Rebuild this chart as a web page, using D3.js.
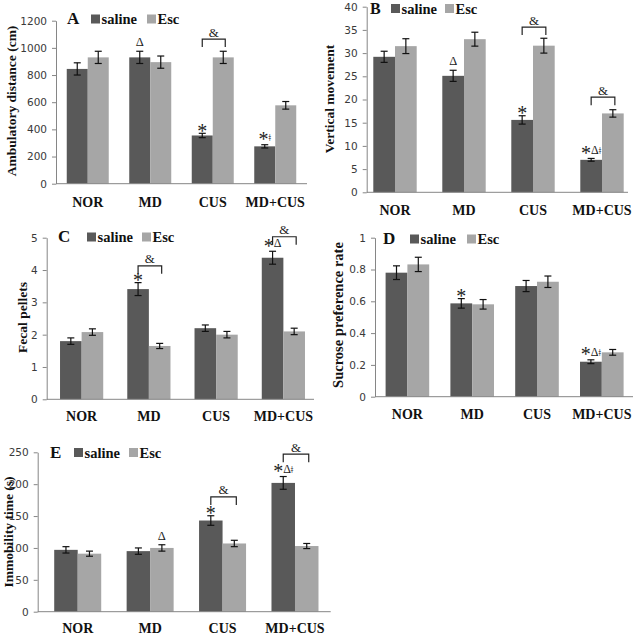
<!DOCTYPE html>
<html><head><meta charset="utf-8">
<script src="https://cdn.jsdelivr.net/npm/d3@7"></script>
<style>
html,body{margin:0;padding:0;background:#fff;}
svg{display:block;}
</style>
</head><body>
<svg id="chart" width="640" height="634"></svg>
<script>
// ---------- DATA ----------
const categories = ["NOR", "MD", "CUS", "MD+CUS"];
const seriesNames = ["saline", "Esc"];

const ambulatorySaline = [845, 930, 355, 275];
const ambulatorySalineErr = [45, 45, 16, 12];
const ambulatoryEsc = [930, 895, 930, 577];
const ambulatoryEscErr = [45, 45, 45, 28];
const ambulatoryTicks = [0, 200, 400, 600, 800, 1000, 1200];

const verticalSaline = [29.2, 25.1, 15.6, 7.0];
const verticalSalineErr = [1.2, 1.2, 0.9, 0.3];
const verticalEsc = [31.5, 33.0, 31.6, 17.0];
const verticalEscErr = [1.6, 1.5, 1.6, 0.8];
const verticalTicks = [0, 5, 10, 15, 20, 25, 30, 35, 40];

const fecalSaline = [1.80, 3.41, 2.20, 4.38];
const fecalSalineErr = [0.1, 0.2, 0.1, 0.2];
const fecalEsc = [2.08, 1.65, 2.00, 2.10];
const fecalEscErr = [0.1, 0.08, 0.1, 0.1];
const fecalTicks = [0, 1, 2, 3, 4, 5];

const sucroseSaline = [0.78, 0.587, 0.696, 0.22];
const sucroseSalineErr = [0.043, 0.03, 0.035, 0.012];
const sucroseEsc = [0.832, 0.581, 0.723, 0.279];
const sucroseEscErr = [0.045, 0.03, 0.036, 0.018];
const sucroseTicks = [0, 0.2, 0.4, 0.6, 0.8, 1];

const immobilitySaline = [97, 95, 143, 202];
const immobilitySalineErr = [5, 5, 7.5, 10];
const immobilityEsc = [91, 100, 107, 103];
const immobilityEscErr = [4, 5, 5, 4];
const immobilityTicks = [0, 50, 100, 150, 200, 250];

// significance marks: [category, series index, text]
const marksA = [["MD", 0, "Δ"], ["CUS", 0, "*"], ["MD+CUS", 0, "*ǂ"]];
const marksB = [["MD", 0, "Δ"], ["CUS", 0, "*"], ["MD+CUS", 0, "*Δǂ"]];
const marksC = [["MD", 0, "*"], ["MD+CUS", 0, "*Δ"]];
const marksD = [["MD", 0, "*"], ["MD+CUS", 0, "*Δǂ"]];
const marksE = [["MD", 1, "Δ"], ["CUS", 0, "*"], ["MD+CUS", 0, "*Δǂ"]];
// "&" brackets: [category, level in data units]
const bracketsA = [["CUS", 1065]];
const bracketsB = [["CUS", 35.6], ["MD+CUS", 20.5]];
const bracketsC = [["MD", 4.13], ["MD+CUS", 5.03]];
const bracketsD = [];
const bracketsE = [["CUS", 180], ["MD+CUS", 247]];

// ---------- DRAW ----------
const colors = ["#595959", "#a6a6a6"];
const svg = d3.select("#chart");
const serif = "'Liberation Serif','Times New Roman',serif";
const sans = "'DejaVu Sans',Verdana,sans-serif";

function panel(cfg) {
  const g = svg.append("g");
  const x = d3.scaleBand().domain(categories).range(cfg.band).padding(0);
  const y = d3.scaleLinear().domain([0, cfg.ticks[cfg.ticks.length - 1]]).range([cfg.y0, cfg.yTop]);
  const bw = cfg.barW;
  const cx = (c, s) => x(c) + x.bandwidth() / 2 + (s === 0 ? -bw : 0);

  // y axis
  const ax = g.append("g").attr("transform", `translate(${cfg.axisX},0)`)
    .call(d3.axisLeft(y).tickValues(cfg.ticks).tickSize(4).tickSizeOuter(0).tickFormat(d3.format("")));
  ax.select(".domain").attr("stroke", "#868686").attr("stroke-width", 1);
  ax.selectAll(".tick line").attr("stroke", "#868686");
  ax.selectAll(".tick text").attr("font-family", sans).attr("font-size", 10.5)
    .attr("fill", "#3a3a3a").attr("x", -9);

  // bars
  const sets = [[cfg.s, cfg.se], [cfg.e, cfg.ee]];
  sets.forEach(([vals, errs], s) => {
    g.selectAll(null).data(categories).enter().append("rect")
      .attr("x", c => cx(c, s))
      .attr("y", (c, i) => y(vals[i]))
      .attr("width", bw)
      .attr("height", (c, i) => cfg.y0 - y(vals[i]))
      .attr("fill", colors[s]);
  });
  // x axis line
  g.append("line").attr("x1", cfg.axisX).attr("x2", cfg.axisEnd)
    .attr("y1", cfg.y0).attr("y2", cfg.y0).attr("stroke", "#868686").attr("stroke-width", 1);

  // error bars
  sets.forEach(([vals, errs], s) => {
    categories.forEach((c, i) => {
      const mx = cx(c, s) + bw / 2;
      const t = y(vals[i] + errs[i]), b = y(vals[i] - errs[i]);
      const eg = g.append("g").attr("stroke", "#111").attr("stroke-width", 1.2);
      eg.append("line").attr("x1", mx).attr("x2", mx).attr("y1", t).attr("y2", b);
      eg.append("line").attr("x1", mx - 3.5).attr("x2", mx + 3.5).attr("y1", t).attr("y2", t);
      eg.append("line").attr("x1", mx - 3.5).attr("x2", mx + 3.5).attr("y1", b).attr("y2", b);
    });
  });

  // significance marks
  cfg.marks.forEach(([c, s, txt]) => {
    const i = categories.indexOf(c);
    const vals = s === 0 ? cfg.s : cfg.e, errs = s === 0 ? cfg.se : cfg.ee;
    const top = y(vals[i] + errs[i]);
    const t = g.append("text").attr("x", cx(c, s) + bw / 2)
      .attr("text-anchor", "middle").attr("font-family", serif).attr("fill", "#222");
    if (txt === "*") {
      t.attr("y", top + 4.4).attr("font-size", 20).text("*");
    } else if (txt === "Δ") {
      t.attr("y", top - 5).attr("font-size", 12.5).text("Δ");
    } else {
      t.attr("y", top - 4);
      let shifted = false;
      for (const ch of txt) {
        if (ch === "*") { t.append("tspan").attr("font-size", 20).attr("dy", 5.4).text("*"); shifted = true; }
        else if (ch === "Δ") { t.append("tspan").attr("font-size", 12).attr("dy", shifted ? -5.4 : 0).text("Δ"); shifted = false; }
        else { t.append("tspan").attr("font-size", 10).attr("dy", shifted ? -5.4 : 0).text(ch); shifted = false; }
      }
    }
  });

  // brackets
  cfg.brackets.forEach(([c, lvl]) => {
    const x1 = cx(c, 0) + bw / 2, x2 = cx(c, 1) + bw / 2 + 2;
    const yy = y(lvl);
    g.append("path").attr("d", `M${x1},${yy + 8}V${yy}H${x2}V${yy + 8}`)
      .attr("fill", "none").attr("stroke", "#222").attr("stroke-width", 1.2);
    g.append("text").attr("x", (x1 + x2) / 2).attr("y", yy - 2.5).attr("text-anchor", "middle")
      .attr("font-family", serif).attr("font-size", 13).attr("fill", "#222").text("&");
  });

  // category labels
  g.selectAll(null).data(categories).enter().append("text")
    .attr("x", c => x(c) + x.bandwidth() / 2).attr("y", cfg.catY)
    .attr("text-anchor", "middle").attr("font-family", serif).attr("font-weight", "bold")
    .attr("font-size", 14).attr("fill", "#111").text(c => c);

  // y label
  g.append("text").attr("transform", `translate(${cfg.labelX},${cfg.labelY}) rotate(-90)`)
    .attr("text-anchor", "middle").attr("dominant-baseline", "central")
    .attr("font-family", serif).attr("font-weight", "bold").attr("font-size", cfg.labelSize || 13.5)
    .attr("fill", "#111").text(cfg.label);

  // panel letter + legend
  const lg = g.append("g").attr("transform", `translate(${cfg.legX},${cfg.legY})`);
  lg.append("text").attr("x", 0).attr("y", 0).attr("font-family", serif).attr("font-weight", "bold")
    .attr("font-size", cfg.letterSize || 17).attr("fill", "#111").text(cfg.letter);
  const offs = [[cfg.leg1, 0], [cfg.leg2, 1]];
  offs.forEach(([dx, s]) => {
    lg.append("rect").attr("x", dx).attr("y", -9.5).attr("width", 9).attr("height", 9).attr("fill", colors[s]);
    lg.append("text").attr("x", dx + 10.5).attr("y", 0).attr("font-family", serif).attr("font-weight", "bold")
      .attr("font-size", 14.5).attr("fill", "#111").text(seriesNames[s]);
  });
}

panel({letter: "A", label: "Ambulatory distance (cm)", s: ambulatorySaline, se: ambulatorySalineErr,
  e: ambulatoryEsc, ee: ambulatoryEscErr, ticks: ambulatoryTicks, marks: marksA, brackets: bracketsA,
  axisX: 56, axisEnd: 307, band: [56.5, 306.5], barW: 21, y0: 183.7, yTop: 20.7, catY: 206.5,
  labelX: 11, labelY: 101, legX: 67, legY: 24, leg1: 24, leg2: 80});

panel({letter: "B", label: "Vertical movement", s: verticalSaline, se: verticalSalineErr,
  e: verticalEsc, ee: verticalEscErr, ticks: verticalTicks, marks: marksB, brackets: bracketsB,
  axisX: 366.7, axisEnd: 628, band: [360.5, 636.5], barW: 21.7, y0: 192.3, yTop: 6.7, catY: 214.5,
  labelX: 329.5, labelY: 99, legX: 370, legY: 13.5, leg1: 21, leg2: 75, letterSize: 16});

panel({letter: "C", label: "Fecal pellets", s: fecalSaline, se: fecalSalineErr,
  e: fecalEsc, ee: fecalEscErr, ticks: fecalTicks, marks: marksC, brackets: bracketsC,
  axisX: 46.7, axisEnd: 314, band: [48, 317], barW: 21.6, y0: 399.3, yTop: 237.7, catY: 421,
  labelX: 22, labelY: 317.5, legX: 58, legY: 242, leg1: 29, leg2: 84});

panel({letter: "D", label: "Sucrose preference rate", s: sucroseSaline, se: sucroseSalineErr,
  e: sucroseEsc, ee: sucroseEscErr, ticks: sucroseTicks, marks: marksD, brackets: bracketsD,
  axisX: 375, axisEnd: 633, band: [375, 634.2], barW: 21.8, y0: 396.7, yTop: 237.7, catY: 418.5,
  labelX: 338, labelY: 315, legX: 383, legY: 244, leg1: 27, leg2: 84, labelSize: 14.5});

panel({letter: "E", label: "Immobility time (s)", s: immobilitySaline, se: immobilitySalineErr,
  e: immobilityEsc, ee: immobilityEscErr, ticks: immobilityTicks, marks: marksE, brackets: bracketsE,
  axisX: 37.7, axisEnd: 330.7, band: [41.5, 331.2], barW: 23.5, y0: 611.7, yTop: 452.3, catY: 632.5,
  labelX: 8.5, labelY: 532, legX: 50, legY: 457.5, leg1: 24, leg2: 79});
</script>
</body></html>
